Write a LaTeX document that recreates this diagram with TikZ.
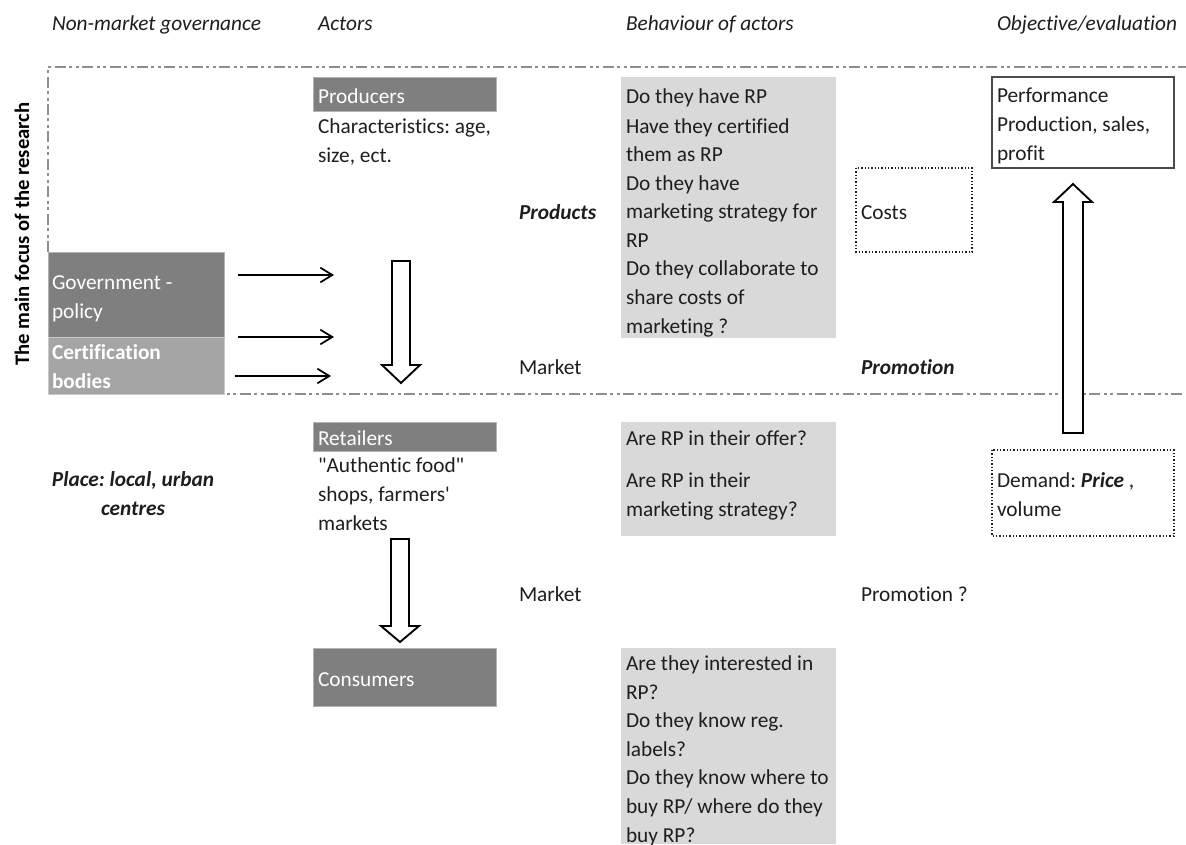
\documentclass[tikz,border=0pt]{standalone}
\usepackage{fontspec}
\setmainfont{Carlito}[Ligatures={TeXOff,CommonOff}]
\usetikzlibrary{arrows.meta}
\definecolor{boxdark}{HTML}{7F7F7F}
\definecolor{boxmid}{HTML}{A5A5A5}
\definecolor{boxlight}{HTML}{D9D9D9}
\definecolor{framegray}{HTML}{8E8E8E}
\definecolor{ink}{HTML}{1E1E1E}
\frenchspacing
\begin{document}
\begin{tikzpicture}[x=0.75pt,y=-0.75pt,
  every node/.style={inner sep=0pt, outer sep=0pt, text=ink, font=\fontsize{16}{21.4}\selectfont},
  txt/.style={anchor=base west, align=left},
  head/.style={txt, font=\fontsize{16}{21.4}\selectfont\itshape},
  bitxt/.style={txt, font=\fontsize{16}{21.4}\selectfont\bfseries\itshape},
  wtxt/.style={txt, text=white},
  darkbox/.style={fill=boxdark, draw=boxdark!60!white, line width=0.4pt},
  midbox/.style={fill=boxmid, draw=boxmid!60!white, line width=0.4pt},
  lightbox/.style={fill=boxlight},
  dotbox/.style={draw=ink, line width=0.8pt, dash pattern=on 1.1pt off 1.4pt},
  solidbox/.style={draw=ink!80!white, line width=1.1pt},
  framepen/.style={draw=framegray, line width=0.8pt, dash pattern=on 8.25pt off 2.6pt on 2.25pt off 2.6pt on 2.25pt off 2.6pt},
  blockarrow/.style={draw=black, fill=white, line width=1.4pt, line join=miter},
  govarrow/.style={draw=black, line width=1.3pt, -{Straight Barb[length=9pt,width=11pt,line width=1.3pt]}}
]
\fill[white] (0,0) rectangle (1186,844);
\useasboundingbox (0,0) rectangle (1186,844);

% headers
\node[head] (hNMG) at (52,30) {Non-market governance};
\node[head] (hAct) at (318,30) {Actors};
\node[head] (hBeh) at (626,30) {Behaviour of actors};
\node[head] (hObj) at (997,30) {Objective/evaluation};

% focus frame
\draw[framepen] (48,252) -- (48,67) -- (1186,67);
\draw[framepen] (48,394) -- (1186,394);
\node[rotate=90, font=\fontsize{15.5}{18}\selectfont\bfseries, text=black] (focus) at (22,234) {The main focus of the research};

% governance boxes (multi-line nodes: base = last line)
\path[darkbox] (48,252) rectangle (224,337);
\path[midbox] (48,337) rectangle (224,394);
\node[wtxt] (gov) at (52,318) {Government -\\policy};
\node[wtxt, font=\fontsize{16}{21.4}\selectfont\bfseries] (cert) at (52,388) {Certification\\bodies};

\coordinate (g1s) at (238,275); \coordinate (g1e) at (334,275);
\coordinate (g2s) at (238,337); \coordinate (g2e) at (334,337);
\coordinate (g3s) at (235,376); \coordinate (g3e) at (331,376);
\draw[govarrow] (g1s) -- (g1e);
\draw[govarrow] (g2s) -- (g2e);
\draw[govarrow] (g3s) -- (g3e);

% producers
\path[darkbox] (313,77) rectangle (496,111);
\node[wtxt] (prod) at (318,103) {Producers};
\node[txt] (prodchar) at (318,162) {Characteristics: age,\\size, ect.};
\draw[blockarrow] (392,261) -- (410,261) -- (410,365) -- (420,365) -- (401,383) -- (382,365) -- (392,365) -- cycle;

% behaviour 1
\path[lightbox] (621,77) rectangle (836,338);
\node[txt] (beh1a) at (626,103) {Do they have RP};
\node[txt] (beh1b) at (626,333) {Have they certified\\them as RP\\Do they have\\marketing strategy for\\RP\\Do they collaborate to\\share costs of\\marketing ?};

\node[bitxt] (products) at (519,219) {Products};
\node[txt] (market1) at (519,374) {Market};
\node[bitxt] (promo1) at (861,374) {Promotion};

\path[dotbox] (856,168) rectangle (972,252);
\node[txt] (costs) at (861,219) {Costs};

\path[solidbox] (992,77) rectangle (1174,168);
\node[txt] (perf) at (997,160) {Performance\\Production, sales,\\profit};
\draw[blockarrow] (1063,433) -- (1063,202) -- (1054,202) -- (1073,184) -- (1092,202) -- (1083,202) -- (1083,433) -- cycle;

% retailers
\path[darkbox] (313,422) rectangle (496,451);
\node[wtxt] (ret) at (318,445) {Retailers};
\node[txt] (retdesc) at (318,530) {"Authentic food"\\shops, farmers'\\markets};
\node[anchor=base, align=center, font=\fontsize{16}{21.4}\selectfont\bfseries\itshape] (place) at (133,515) {Place: local, urban\\centres};

\path[lightbox] (621,422) rectangle (836,536);
\node[txt] (beh2a) at (626,445) {Are RP in their offer?};
\node[txt] (beh2b) at (626,516) {Are RP in their\\marketing strategy?};

\path[dotbox] (992,450) rectangle (1174,536);
\node[txt] (demand) at (997,516) {Demand: \textbf{\textit{Price}} ,\\volume};

\draw[blockarrow] (391,539) -- (409,539) -- (409,626) -- (419,626) -- (400,642) -- (381,626) -- (391,626) -- cycle;

\node[txt] (market2) at (519,601) {Market};
\node[txt] (promo2) at (861,601) {Promotion ?};

% consumers
\path[darkbox] (313,648) rectangle (496,706);
\node[wtxt] (cons) at (318,686) {Consumers};
\path[lightbox] (621,648) rectangle (836,844);
\node[txt] (beh3) at (626,842) {Are they interested in\\RP?\\Do they know reg.\\labels?\\Do they know where to\\buy RP/ where do they\\buy RP?};
\end{tikzpicture}
\end{document}
